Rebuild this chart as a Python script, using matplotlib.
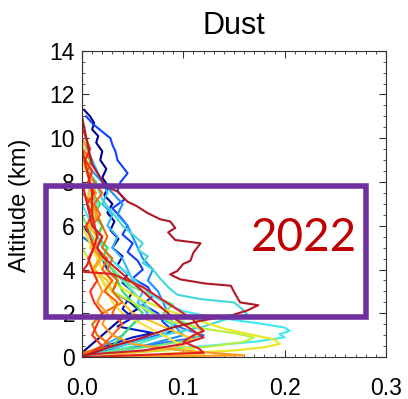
import matplotlib.pyplot as plt
from matplotlib.patches import Rectangle
from matplotlib.ticker import MultipleLocator

# Профили пыли: высота (км) и концентрация, по одному на кривую
z_navy = [11.3, 11.0, 10.7, 10.4, 10.1, 9.8, 9.4, 9.0, 8.6, 8.2, 7.8, 7.4, 7.0, 6.6, 6.2, 5.8, 5.4, 5.0, 4.6, 4.2, 3.8, 3.4, 3.0, 2.6, 2.2, 1.8, 1.4, 1.0, 0.6, 0.2]
x_navy = [0.002, 0.008, 0.012, 0.010, 0.016, 0.014, 0.020, 0.018, 0.024, 0.020, 0.026, 0.022, 0.030, 0.025, 0.032, 0.028, 0.036, 0.030, 0.040, 0.035, 0.045, 0.040, 0.050, 0.045, 0.055, 0.040, 0.030, 0.020, 0.010, 0.0]

z_blue = [11.0, 10.6, 10.3, 10.0, 9.7, 9.4, 9.0, 8.7, 8.4, 8.0, 7.6, 7.2, 6.8, 6.4, 6.0, 5.6, 5.2, 4.8, 4.4, 4.0, 3.6, 3.2, 2.8, 2.4, 2.0, 1.6, 1.2, 0.8, 0.4, 0.1]
x_blue = [0.004, 0.012, 0.020, 0.028, 0.030, 0.033, 0.035, 0.040, 0.045, 0.038, 0.035, 0.042, 0.030, 0.038, 0.045, 0.040, 0.050, 0.045, 0.055, 0.060, 0.050, 0.065, 0.070, 0.060, 0.075, 0.080, 0.090, 0.060, 0.030, 0.005]

z_darkblue = [6.0, 5.5, 5.0, 4.5, 4.0, 3.5, 3.0, 2.6, 2.2, 1.8, 1.4, 1.1, 0.9, 0.6, 0.3, 0.1]
x_darkblue = [0.0, 0.010, 0.015, 0.020, 0.025, 0.035, 0.030, 0.045, 0.040, 0.050, 0.035, 0.070, 0.050, 0.030, 0.010, 0.0]

z_blue2 = [5.5, 5.0, 4.5, 4.0, 3.5, 3.0, 2.5, 2.0, 1.6, 1.3, 1.0, 0.8, 0.5, 0.2]
x_blue2 = [0.0, 0.015, 0.020, 0.030, 0.040, 0.050, 0.060, 0.070, 0.085, 0.100, 0.120, 0.100, 0.060, 0.010]

z_azure = [9.0, 8.5, 8.0, 7.5, 7.0, 6.5, 6.0, 5.5, 5.0, 4.5, 4.0, 3.5, 3.0, 2.5, 2.0, 1.5, 1.0, 0.5, 0.1]
x_azure = [0.0, 0.010, 0.020, 0.030, 0.040, 0.035, 0.045, 0.050, 0.055, 0.060, 0.070, 0.065, 0.075, 0.080, 0.085, 0.090, 0.100, 0.060, 0.010]

z_lightblue = [10.0, 9.5, 9.0, 8.5, 8.0, 7.5, 7.0, 6.5, 6.0, 5.5, 5.0, 4.5, 4.0, 3.5, 3.0, 2.5, 2.0, 1.5, 1.0, 0.5, 0.1]
x_lightblue = [0.0, 0.005, 0.010, 0.015, 0.020, 0.025, 0.020, 0.030, 0.025, 0.035, 0.030, 0.040, 0.045, 0.050, 0.060, 0.055, 0.065, 0.050, 0.040, 0.020, 0.0]

z_turq = [9.0, 8.4, 7.8, 7.2, 6.6, 6.0, 5.6, 5.2, 4.9, 4.6, 4.3, 4.0, 3.6, 3.2, 2.85, 2.65, 2.5, 2.2, 1.95, 1.7, 1.4, 1.0, 0.6, 0.2]
x_turq = [0.0, 0.008, 0.015, 0.020, 0.030, 0.040, 0.050, 0.060, 0.055, 0.065, 0.060, 0.070, 0.077, 0.085, 0.094, 0.117, 0.150, 0.158, 0.163, 0.140, 0.120, 0.080, 0.045, 0.010]

z_cyan = [7.0, 6.0, 5.0, 4.4, 4.0, 3.6, 3.2, 2.8, 2.4, 2.1, 1.9, 1.7, 1.5, 1.35, 1.2, 1.05, 0.9, 0.7, 0.5, 0.3, 0.1]
x_cyan = [0.0, 0.010, 0.020, 0.030, 0.040, 0.050, 0.060, 0.070, 0.085, 0.100, 0.120, 0.150, 0.180, 0.200, 0.205, 0.195, 0.200, 0.170, 0.120, 0.060, 0.0]

z_aqua = [9.0, 8.5, 8.0, 7.5, 7.0, 6.5, 6.0, 5.5, 5.0, 4.5, 4.0, 3.5, 3.0, 2.5, 2.0, 1.5, 1.0, 0.5, 0.1]
x_aqua = [0.0, 0.005, 0.012, 0.008, 0.015, 0.010, 0.020, 0.015, 0.025, 0.020, 0.030, 0.040, 0.050, 0.060, 0.070, 0.090, 0.080, 0.050, 0.010]

z_green = [6.5, 5.5, 4.5, 3.8, 3.2, 2.8, 2.4, 2.0, 1.6, 1.2, 0.8, 0.5, 0.2]
x_green = [0.0, 0.010, 0.020, 0.035, 0.050, 0.070, 0.090, 0.080, 0.100, 0.120, 0.110, 0.070, 0.020]

z_green2 = [9.5, 9.0, 8.5, 8.0, 7.5, 7.0, 6.5, 6.0, 5.5, 5.0, 4.5, 4.0, 3.5, 3.0, 2.5, 2.0, 1.5, 1.0, 0.5, 0.1]
x_green2 = [0.0, 0.008, 0.005, 0.014, 0.010, 0.018, 0.012, 0.020, 0.015, 0.025, 0.020, 0.030, 0.035, 0.040, 0.050, 0.060, 0.050, 0.040, 0.030, 0.0]

z_lime = [5.0, 4.2, 3.5, 3.0, 2.5, 2.0, 1.6, 1.3, 1.1, 0.9, 0.7, 0.5, 0.3, 0.1]
x_lime = [0.0, 0.010, 0.020, 0.030, 0.050, 0.070, 0.090, 0.120, 0.150, 0.170, 0.160, 0.130, 0.080, 0.020]

z_yellow = [6.0, 5.0, 4.0, 3.4, 3.0, 2.6, 2.2, 1.9, 1.6, 1.3, 1.0, 0.8, 0.6, 0.45, 0.3, 0.15]
x_yellow = [0.0, 0.010, 0.020, 0.030, 0.045, 0.060, 0.080, 0.100, 0.120, 0.140, 0.170, 0.190, 0.195, 0.180, 0.150, 0.080]

z_yellow2 = [10.0, 9.0, 8.0, 7.0, 6.5, 6.0, 5.5, 5.0, 4.5, 4.0, 3.5, 3.0, 2.5, 2.0, 1.5, 1.0, 0.5, 0.1, 0.0]
x_yellow2 = [0.0, 0.004, 0.008, 0.006, 0.012, 0.008, 0.014, 0.010, 0.016, 0.012, 0.020, 0.025, 0.030, 0.040, 0.060, 0.080, 0.100, 0.120, 0.0]

z_gold = [9.0, 8.0, 7.0, 6.5, 6.0, 5.5, 5.0, 4.5, 4.0, 3.5, 3.0, 2.5, 2.0, 1.6, 1.2, 0.8, 0.4, 0.1]
x_gold = [0.0, 0.008, 0.005, 0.012, 0.006, 0.015, 0.008, 0.020, 0.012, 0.025, 0.030, 0.040, 0.050, 0.070, 0.090, 0.110, 0.090, 0.030]

z_orange = [10.0, 9.5, 9.0, 8.5, 8.0, 7.5, 7.0, 6.5, 6.0, 5.5, 5.0, 4.5, 4.0, 3.5, 3.0, 2.5, 2.0, 1.5, 1.0, 0.6, 0.3, 0.08, 0.0]
x_orange = [0.0, 0.006, 0.004, 0.010, 0.008, 0.014, 0.009, 0.015, 0.010, 0.020, 0.012, 0.018, 0.010, 0.015, 0.020, 0.015, 0.025, 0.020, 0.030, 0.050, 0.100, 0.160, 0.0]

z_orange2 = [9.5, 9.0, 8.5, 8.0, 7.5, 7.0, 6.5, 6.0, 5.5, 5.0, 4.5, 4.0, 3.5, 3.0, 2.5, 2.0, 1.5, 1.0, 0.5, 0.1]
x_orange2 = [0.0, 0.010, 0.005, 0.012, 0.020, 0.012, 0.018, 0.010, 0.020, 0.014, 0.025, 0.020, 0.030, 0.022, 0.035, 0.030, 0.040, 0.030, 0.020, 0.0]

z_darkorange = [7.5, 7.0, 6.5, 6.0, 5.5, 5.0, 4.5, 4.0, 3.5, 3.0, 2.5, 2.0, 1.5, 1.0, 0.5, 0.2]
x_darkorange = [0.0, 0.010, 0.015, 0.020, 0.025, 0.020, 0.030, 0.025, 0.035, 0.030, 0.040, 0.020, 0.010, 0.015, 0.030, 0.0]

z_redorange = [10.5, 10.0, 9.5, 9.0, 8.5, 8.0, 7.5, 7.0, 6.5, 6.0, 5.5, 5.0, 4.5, 4.0, 3.5, 3.0, 2.5, 2.0, 1.5, 1.0, 0.5, 0.1]
x_redorange = [0.0, 0.004, 0.008, 0.003, 0.010, 0.006, 0.012, 0.005, 0.010, 0.004, 0.008, 0.012, 0.006, 0.010, 0.015, 0.008, 0.012, 0.020, 0.015, 0.010, 0.020, 0.005]

z_red = [9.5, 8.5, 7.5, 6.5, 5.5, 4.8, 4.2, 3.9, 3.8, 3.5, 3.2, 2.9, 2.6, 2.3, 2.0, 1.7, 1.4, 1.2, 1.0, 0.7, 0.4, 0.2, 0.0]
x_red = [0.0, 0.005, 0.010, 0.010, 0.015, 0.010, 0.005, 0.0, 0.030, 0.045, 0.060, 0.070, 0.080, 0.090, 0.100, 0.110, 0.115, 0.120, 0.110, 0.100, 0.115, 0.120, 0.0]

z_crimson = [8.0, 7.0, 6.0, 5.5, 5.0, 4.6, 4.2, 3.8, 3.4, 3.0, 2.6, 2.2, 1.8, 1.5, 1.2, 0.9, 0.6, 0.3, 0.1]
x_crimson = [0.0, 0.005, 0.010, 0.020, 0.015, 0.020, 0.030, 0.040, 0.050, 0.060, 0.070, 0.080, 0.090, 0.100, 0.110, 0.120, 0.100, 0.060, 0.0]

z_darkred = [11.0, 9.6, 8.8, 8.2, 7.8, 7.57, 7.1, 6.9, 6.6, 6.3, 6.2, 5.9, 5.7, 5.35, 5.2, 4.78, 4.4, 4.26, 3.93, 3.78, 3.55, 3.36, 3.26, 2.98, 2.5, 2.37, 2.13, 1.9, 1.66, 1.32, 0.85, 0.47, 0.14, 0.0]
x_darkred = [0.0, 0.006, 0.010, 0.018, 0.023, 0.035, 0.045, 0.054, 0.064, 0.077, 0.087, 0.092, 0.085, 0.092, 0.117, 0.110, 0.107, 0.100, 0.094, 0.087, 0.097, 0.122, 0.147, 0.150, 0.156, 0.174, 0.163, 0.147, 0.117, 0.087, 0.057, 0.028, 0.008, 0.0]

z_axisred = [0.0, 14.0]
x_axisred = [0.0, 0.0]

xticks = [0.0, 0.1, 0.2, 0.3]
xtick_labels = ['0.0', '0.1', '0.2', '0.3']
yticks = [0, 2, 4, 6, 8, 10, 12, 14]

profiles = [
    (x_navy, z_navy, '#00008f'),
    (x_darkblue, z_darkblue, '#0018c8'),
    (x_blue, z_blue, '#1040ff'),
    (x_blue2, z_blue2, '#3070ff'),
    (x_azure, z_azure, '#1c90ff'),
    (x_lightblue, z_lightblue, '#30b8ff'),
    (x_aqua, z_aqua, '#50f0c0'),
    (x_green2, z_green2, '#30e060'),
    (x_green, z_green, '#70e878'),
    (x_turq, z_turq, '#40d8d8'),
    (x_cyan, z_cyan, '#40e8f0'),
    (x_lime, z_lime, '#b8f040'),
    (x_yellow, z_yellow, '#e8e820'),
    (x_yellow2, z_yellow2, '#f8e030'),
    (x_gold, z_gold, '#ffc020'),
    (x_orange2, z_orange2, '#ff6010'),
    (x_darkorange, z_darkorange, '#e87000'),
    (x_orange, z_orange, '#ff9a20'),
    (x_redorange, z_redorange, '#ff3010'),
    (x_crimson, z_crimson, '#d02030'),
    (x_red, z_red, '#e02020'),
    (x_darkred, z_darkred, '#b01828'),
    (x_axisred, z_axisred, '#e02020'),
]

fig = plt.figure(figsize=(4.08, 3.99), dpi=100)
ax = fig.add_axes([0.201, 0.105, 0.745, 0.768])

for xs, zs, c in profiles:
    ax.plot(xs, zs, color=c, lw=1.5)

ax.set_xlim(0, 0.3)
ax.set_ylim(0, 14)
ax.set_xticks(xticks)
ax.set_xticklabels(xtick_labels, fontsize=16.5, family='Liberation Sans')
ax.set_yticks(yticks)
ax.set_yticklabels([str(v) for v in yticks], fontsize=16.5, family='Liberation Sans')
ax.xaxis.set_minor_locator(MultipleLocator(0.01))
ax.yaxis.set_minor_locator(MultipleLocator(0.5))
ax.tick_params(which='both', direction='in', top=True, right=True, color='#333333')
ax.tick_params(which='major', length=5, width=0.8)
ax.tick_params(which='minor', length=2.5, width=0.6)
ax.tick_params(axis='x', which='major', pad=14)
ax.tick_params(axis='y', which='major', pad=5)
for s in ax.spines.values():
    s.set_linewidth(0.8)
    s.set_color('#333333')

ax.set_title('Dust', fontsize=22, family='Liberation Sans', pad=12)
fig.text(20 / 408, 1 - 205 / 399, 'Altitude (km)', rotation=90, ha='center', va='center',
         fontsize=17, family='Liberation Sans')

# Рамка-выделение и подпись года
fig.patches.append(Rectangle((45.5 / 408, 1 - 316.5 / 399), 320 / 408, 131 / 399,
                             transform=fig.transFigure, fill=False,
                             edgecolor='#7030a0', lw=4))
fig.text(304 / 408, 1 - 238 / 399, '2022', ha='center', va='center',
         fontsize=33, color='#c00000', family='Lato')

fig.savefig('out.png', dpi=100)
